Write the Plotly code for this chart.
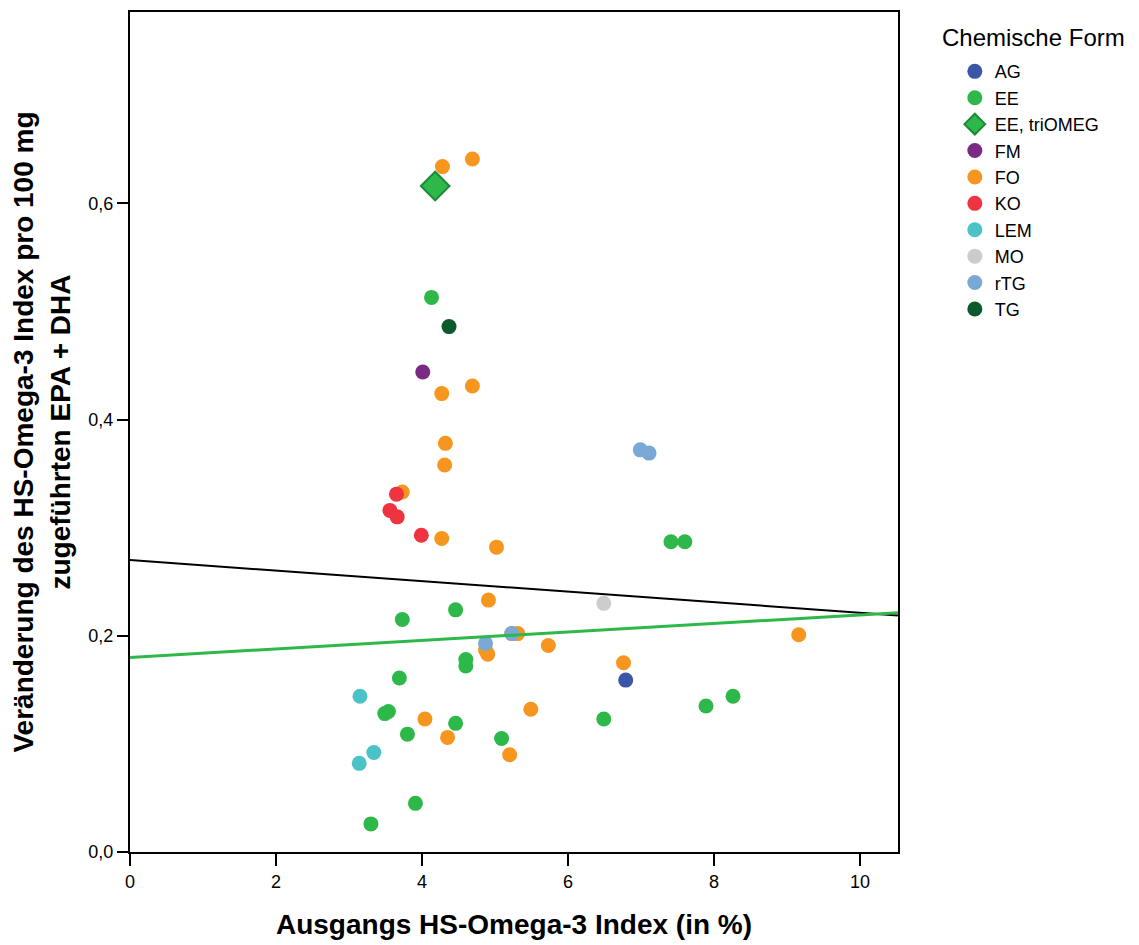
import plotly.graph_objects as go

# ---- data ----
forms = ["AG", "EE", "EE, triOMEG", "FM", "FO", "KO", "LEM", "MO", "rTG", "TG"]
colors = {"AG": "#3b55a8", "EE": "#2eb84a", "EE, triOMEG": "#2eb84a", "FM": "#7a2a82",
          "FO": "#f7961e", "KO": "#ef3340", "LEM": "#4ac2c6", "MO": "#cccccc",
          "rTG": "#7aa8d6", "TG": "#0b5a2c"}

ag_x = [6.79]
ag_y = [0.159]

ee_x = [4.13, 7.41, 7.60, 4.46, 3.73, 4.60, 4.60, 3.69, 3.49, 3.54, 4.46, 3.80, 5.09, 6.49, 7.89, 8.26, 3.91, 3.30]
ee_y = [0.513, 0.287, 0.287, 0.224, 0.215, 0.178, 0.172, 0.161, 0.128, 0.130, 0.119, 0.109, 0.105, 0.123, 0.135, 0.144, 0.045, 0.026]

tri_x = [4.18]
tri_y = [0.616]

fm_x = [4.01]
fm_y = [0.444]

fo_x = [4.28, 4.69, 4.69, 4.27, 4.32, 4.31, 3.73, 4.27, 5.02, 4.91, 5.23, 5.31, 5.73, 4.87, 4.90,
        6.76, 9.16, 4.04, 4.35, 5.49, 5.20]
fo_y = [0.634, 0.641, 0.431, 0.424, 0.378, 0.358, 0.333, 0.290, 0.282, 0.233, 0.202, 0.202, 0.191, 0.187, 0.183,
        0.175, 0.201, 0.123, 0.106, 0.132, 0.090]

ko_x = [3.65, 3.56, 3.66, 3.99]
ko_y = [0.331, 0.316, 0.310, 0.293]

lem_x = [3.15, 3.34, 3.14]
lem_y = [0.144, 0.092, 0.082]

mo_x = [6.49]
mo_y = [0.230]

rtg_x = [6.99, 7.11, 5.23, 4.87]
rtg_y = [0.372, 0.369, 0.202, 0.193]

tg_x = [4.37]
tg_y = [0.486]

fit_x = [0.0, 10.52]
fit_all_y = [0.2700, 0.2188]
fit_ee_y = [0.1800, 0.2213]

series = [("AG", ag_x, ag_y), ("EE", ee_x, ee_y), ("EE, triOMEG", tri_x, tri_y),
          ("FM", fm_x, fm_y), ("FO", fo_x, fo_y), ("KO", ko_x, ko_y),
          ("LEM", lem_x, lem_y), ("MO", mo_x, mo_y), ("rTG", rtg_x, rtg_y), ("TG", tg_x, tg_y)]

fig = go.Figure()
for name, xs, ys in series:
    if name == "EE, triOMEG":
        marker = dict(symbol="diamond", size=22, color=colors[name],
                      line=dict(color="#1a8a3a", width=2))
    else:
        marker = dict(symbol="circle", size=15, color=colors[name], line=dict(width=0))
    fig.add_trace(go.Scatter(x=xs, y=ys, mode="markers", name=name, marker=marker))

fig.add_trace(go.Scatter(x=fit_x, y=fit_all_y, mode="lines", showlegend=False,
                         line=dict(color="black", width=2)))
fig.add_trace(go.Scatter(x=fit_x, y=fit_ee_y, mode="lines", showlegend=False,
                         line=dict(color="#2eb84a", width=3)))

font = "Liberation Sans, Arial, sans-serif"
fig.update_layout(
    width=1139, height=945,
    margin=dict(l=130, r=241, t=10, b=93),
    plot_bgcolor="white", paper_bgcolor="white",
    separators=",.",
    font=dict(family=font, color="black", size=17),
    showlegend=True,
    legend=dict(x=1.074, y=0.951, xanchor="left", yanchor="top",
                font=dict(size=18, family=font), itemwidth=30,
                tracegroupgap=0, bgcolor="rgba(0,0,0,0)"),
    xaxis=dict(range=[0, 10.52], tickvals=[0, 2, 4, 6, 8, 10], showgrid=False, zeroline=False,
               showline=True, linecolor="black", linewidth=2, mirror=True,
               ticks="outside", ticklen=12, tickwidth=2, tickcolor="black",
               tickfont=dict(size=18),
               title=dict(text="<b>Ausgangs HS-Omega-3 Index (in %)</b>", font=dict(size=28), standoff=24)),
    yaxis=dict(range=[0, 0.777], tickvals=[0, 0.2, 0.4, 0.6], tickformat=".1f", showgrid=False, zeroline=False,
               showline=True, linecolor="black", linewidth=2, mirror=True,
               ticks="outside", ticklen=11, tickwidth=2, tickcolor="black",
               tickfont=dict(size=18),
               title=dict(text="<b>Veränderung des HS-Omega-3 Index pro 100 mg<br>zugeführten EPA + DHA</b>",
                          font=dict(size=28), standoff=10)),
    annotations=[dict(text="Chemische Form", xref="paper", yref="paper", x=1.0547, y=0.970,
                      xanchor="left", yanchor="middle", showarrow=False, font=dict(size=24, family=font))],
)

fig.write_html("out.html")
